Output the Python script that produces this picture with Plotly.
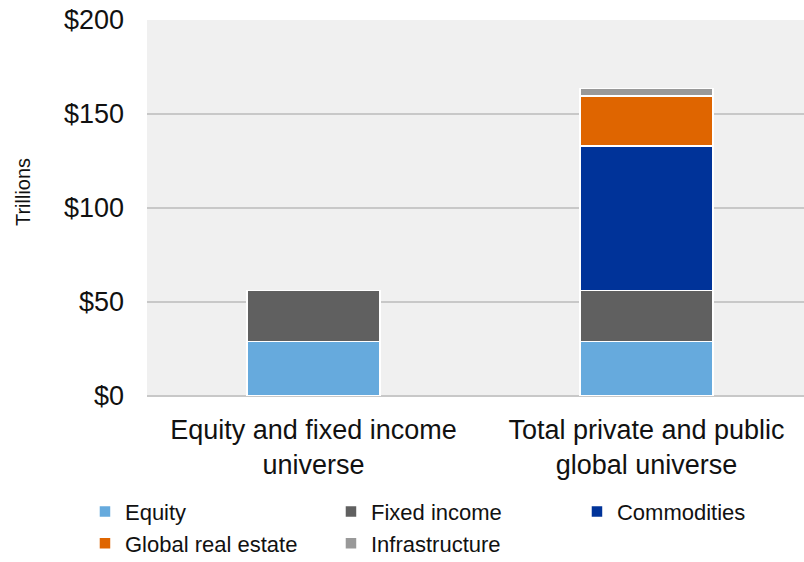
import plotly.graph_objects as go

categories = ["Equity and fixed income<br>universe", "Total private and public<br>global universe"]
series_names = ["Equity", "Fixed income", "Commodities", "Global real estate", "Infrastructure"]
equity = [29, 29]
fixed_income = [27, 27]
commodities = [0, 77]
real_estate = [0, 26.5]
infrastructure = [0, 4]
colors = ["#66aadd", "#606060", "#003399", "#df6500", "#999999"]
y_ticks = [0, 50, 100, 150, 200]
y_tick_text = ["$0", "$50", "$100", "$150", "$200"]

series_values = [equity, fixed_income, commodities, real_estate, infrastructure]

fig = go.Figure()
for name, vals, col in zip(series_names, series_values, colors):
    fig.add_trace(go.Bar(
        x=categories, y=vals, name=name,
        marker=dict(color=col, line=dict(color="white", width=1.5)),
        width=0.4,
    ))

font_family = "Liberation Sans, Arial, sans-serif"
fig.update_layout(
    width=804, height=562,
    barmode="stack",
    paper_bgcolor="white",
    plot_bgcolor="#f0f0f0",
    margin=dict(l=147, r=0, t=20, b=166, autoexpand=False),
    font=dict(family=font_family, color="#111111"),
    showlegend=True,
    legend=dict(
        orientation="h", x=-0.0944, xanchor="left",
        y=-0.252, yanchor="top",
        font=dict(size=22, family=font_family),
        entrywidth=201, entrywidthmode="pixels",
        traceorder="normal",
        bgcolor="rgba(0,0,0,0)",
    ),
    xaxis=dict(
        range=[-0.5, 1.473], showgrid=False, ticks="",
        tickfont=dict(size=27, family=font_family),
        showline=False, ticklabelstandoff=15,
    ),
    yaxis=dict(
        range=[0, 200], tickvals=y_ticks, ticktext=y_tick_text,
        tickfont=dict(size=27, family=font_family),
        showgrid=True, gridcolor="#c8c8c8", gridwidth=1.5,
        zeroline=True, zerolinecolor="#c8c8c8", zerolinewidth=1.5,
        ticks="", ticklabelstandoff=22,
    ),
    annotations=[dict(
        text="Trillions", textangle=-90, showarrow=False,
        xref="paper", x=-0.189, xanchor="center",
        yref="paper", y=0.542, yanchor="middle",
        font=dict(size=20, family=font_family, color="#111111"),
    )],
)

fig.write_html("out.html")
